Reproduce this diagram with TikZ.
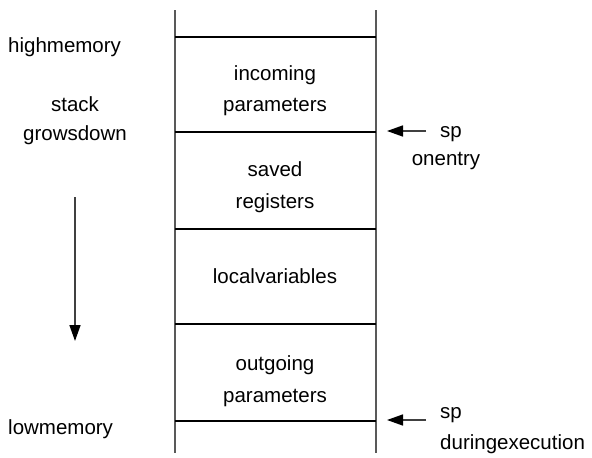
\documentclass[tikz,border=0pt]{standalone}
\usepackage{fontspec}
\setmainfont{Liberation Sans}
\usetikzlibrary{positioning,arrows.meta}

\begin{document}
\begin{tikzpicture}[x=1pt, y=-1pt,
	lstyle/.style={font=\fontsize{20.5}{24}\selectfont, inner sep=0pt, anchor=base},
	wstyle/.style={lstyle, anchor=base west},
	sidestyle/.style={draw=black!65, line width=1.6pt},
	rowstyle/.style={draw=black, line width=1.1pt},
	astyle/.style={draw=black!75, line width=1.5pt, -{Triangle[length=16pt,width=11pt,color=black]}}
	]
	\useasboundingbox (0,0) rectangle (592,458);
	
	% frame of the stack
	\coordinate (tl) at (175,10);
	\coordinate (bl) at (175,453);
	\coordinate (tr) at (376,10);
	\coordinate (br) at (376,453);
	\draw[sidestyle] (tl) -- (bl);
	\draw[sidestyle] (tr) -- (br);
	\foreach \y in {37,132,229,324,421}
		\draw[rowstyle] (175,\y) -- (376,\y);
	
	% cells
	\node[lstyle] (in1) at (275,80) {incoming};
	\node[lstyle] (in2) at (275,111) {parameters};
	\node[lstyle] (sv1) at (275,176) {saved};
	\node[lstyle] (sv2) at (275,208) {registers};
	\node[lstyle] (lv) at (275,283) {localvariables};
	\node[lstyle] (out1) at (275,370) {outgoing};
	\node[lstyle] (out2) at (275,402) {parameters};
	
	% left side
	\node[wstyle] (high) at (8,52) {highmemory};
	\node[lstyle] (st1) at (75,111) {stack};
	\node[lstyle] (st2) at (75,140) {growsdown};
	\node[wstyle] (low) at (8,434) {lowmemory};
	\coordinate (gtop) at (75,197);
	\coordinate (gbot) at (75,341);
	\draw[astyle] (gtop) -- (gbot);
	
	% right side
	\node[lstyle] (sp1) at (451,137) {sp};
	\node[lstyle] (on) at (446,165) {onentry};
	\node[wstyle] (sp2) at (440,418) {sp};
	\node[wstyle] (dur) at (440,449) {duringexecution};
	\coordinate (a1) at (426,131);
	\coordinate (b1) at (387,131);
	\coordinate (a2) at (426,420);
	\coordinate (b2) at (387,420);
	\draw[astyle] (a1) -- (b1);
	\draw[astyle] (a2) -- (b2);
\end{tikzpicture}
\end{document}
